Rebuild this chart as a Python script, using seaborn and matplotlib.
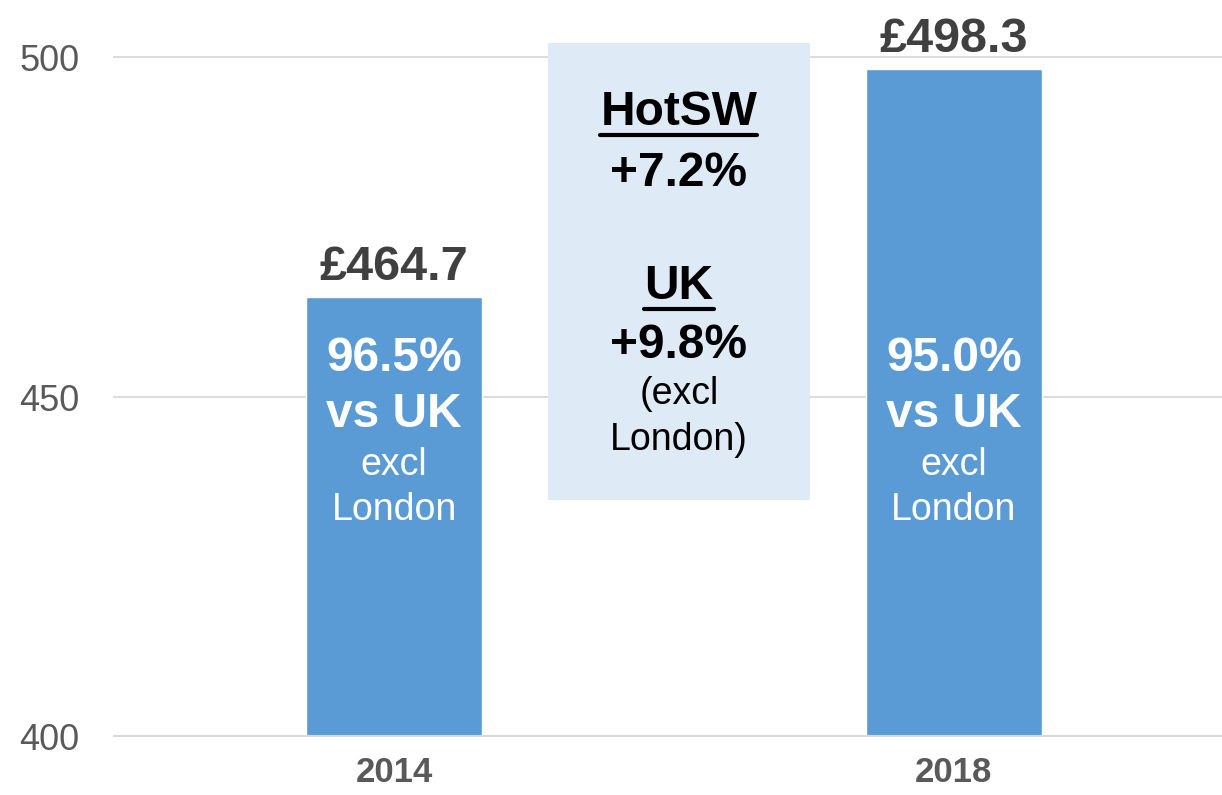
import numpy as np
import pandas as pd
import matplotlib.pyplot as plt
import seaborn as sns
from matplotlib.patches import Rectangle
from matplotlib.lines import Line2D

# Data
years = ['2014', '2018']
values = [464.7, 498.3]
share_vs_uk = ['96.5%', '95.0%']
hotsw_growth = '+7.2%'
uk_growth = '+9.8%'

df = pd.DataFrame({'year': years, 'value': values})

sns.set_theme(style='white')
plt.rcParams['font.family'] = ['Liberation Sans', 'DejaVu Sans']

bar_color = '#5b9bd5'
label_grey = '#595959'

fig = plt.figure(figsize=(12.22, 7.95), dpi=100)
ax = fig.add_axes([0.0925, 0.073, 0.9075, 0.927])

sns.barplot(data=df, x='year', y='value', color=bar_color, saturation=1,
            width=0.314, ax=ax, zorder=3)

ax.set_ylim(400, 508.4)
ax.set_xlim(-0.502, 1.479)
ax.set_yticks([400, 450, 500])
ax.yaxis.grid(True, color='#d9d9d9', linewidth=1.3, zorder=0)
ax.set_axisbelow(True)
for s in ax.spines.values():
    s.set_visible(False)
ax.axhline(400, color='#d9d9d9', linewidth=3, zorder=4)

ax.tick_params(axis='y', labelsize=26, labelcolor=label_grey, length=0, pad=24)
ax.tick_params(axis='x', labelsize=25, labelcolor=label_grey, length=0, pad=14)
for t in ax.get_xticklabels():
    t.set_fontweight('bold')
ax.set_xlabel('')
ax.set_ylabel('')

# value labels above bars, share text inside bars
for i, v in enumerate(values):
    ax.annotate(f'£{v:.1f}', (i, v), xytext=(0, 12), textcoords='offset points',
                ha='center', va='baseline', fontsize=35, fontweight='bold',
                color='#404040', zorder=5)
    ax.text(i, 455.7, share_vs_uk[i], ha='center', va='center', fontsize=34.5,
            fontweight='bold', color='white', zorder=5)
    ax.text(i, 447.5, 'vs UK', ha='center', va='center', fontsize=34.5,
            fontweight='bold', color='white', zorder=5)
    ax.text(i, 440.0, 'excl', ha='center', va='center', fontsize=27,
            color='white', zorder=5)
    ax.text(i, 433.4, 'London', ha='center', va='center', fontsize=27,
            color='white', zorder=5)

# growth box between bars
box = Rectangle((0.275, 434.9), 0.468, 67.2, facecolor='#deeaf6',
                edgecolor='none', zorder=2)
ax.add_patch(box)
cx = 0.509
t_hot = ax.text(cx, 491.8, 'HotSW', ha='center', va='center', fontsize=34.5,
                fontweight='bold', color='black', zorder=5)
ax.text(cx, 482.9, hotsw_growth, ha='center', va='center', fontsize=34.5,
        fontweight='bold', color='black', zorder=5)
t_uk = ax.text(cx, 466.2, 'UK', ha='center', va='center', fontsize=34.5,
               fontweight='bold', color='black', zorder=5)
ax.text(cx, 457.6, uk_growth, ha='center', va='center', fontsize=34.5,
        fontweight='bold', color='black', zorder=5)
ax.text(cx, 450.4, '(excl', ha='center', va='center', fontsize=27,
        color='black', zorder=5)
ax.text(cx, 443.7, 'London)', ha='center', va='center', fontsize=27,
        color='black', zorder=5)

# underline the two headings
fig.canvas.draw()
renderer = fig.canvas.get_renderer()
inv = fig.transFigure.inverted()
for t in (t_hot, t_uk):
    bb = t.get_window_extent(renderer)
    x0, y0 = inv.transform((bb.x0, bb.y0))
    x1, _ = inv.transform((bb.x1, bb.y0))
    fig.add_artist(Line2D([x0, x1], [y0, y0], color='black', linewidth=3,
                          transform=fig.transFigure, zorder=6))

fig.savefig('out.png', dpi=100)
